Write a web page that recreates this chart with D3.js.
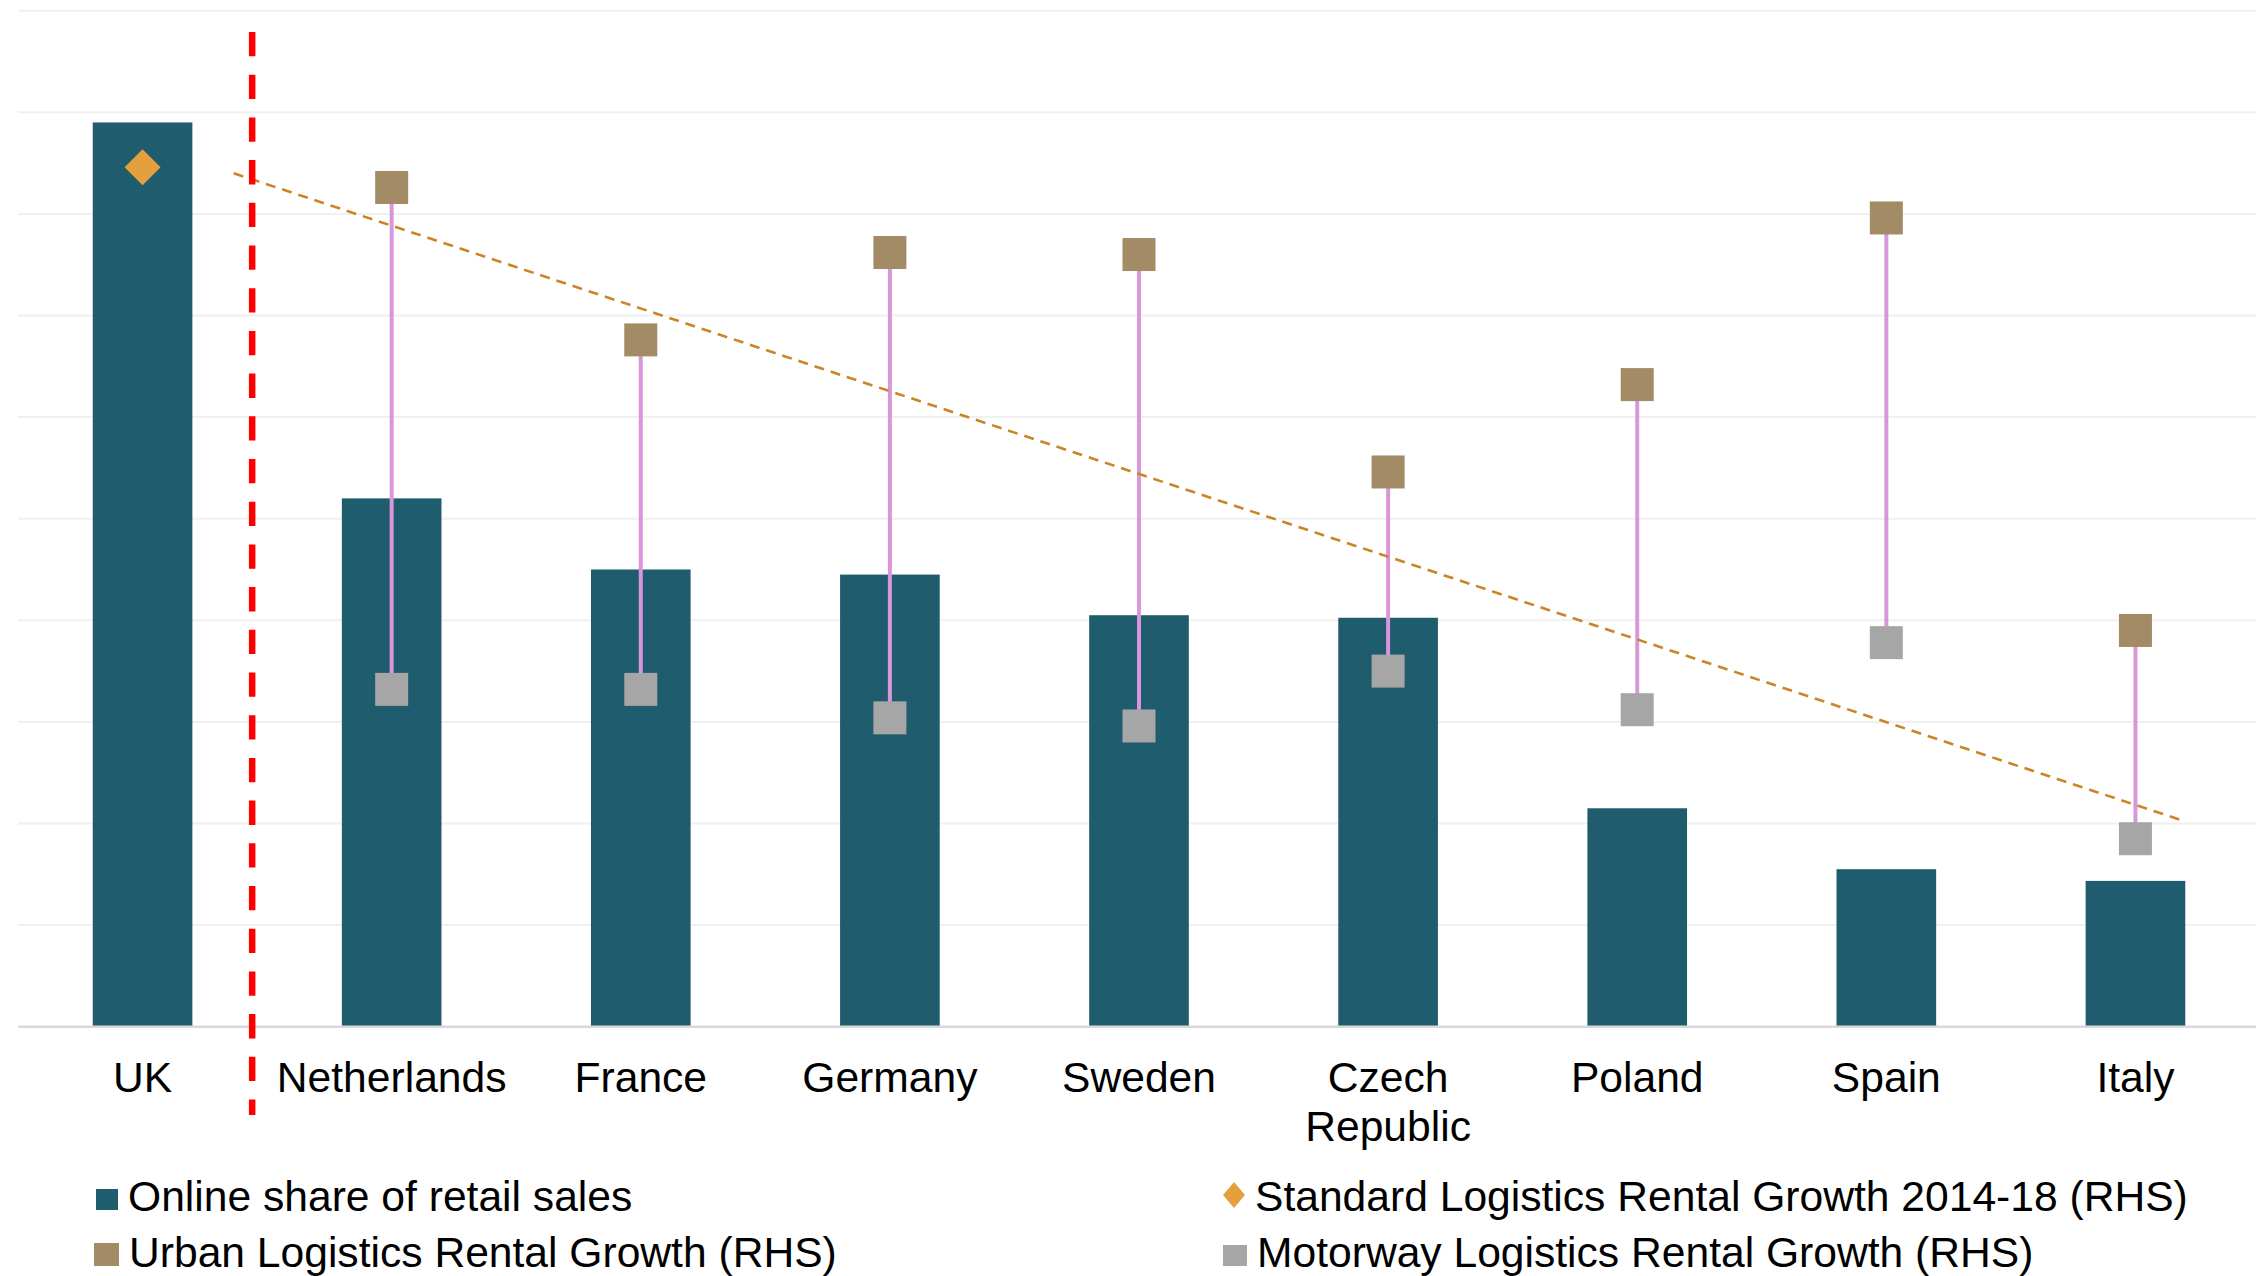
<!DOCTYPE html>
<html>
<head>
<meta charset="utf-8">
<script src="https://cdn.jsdelivr.net/npm/d3@7/dist/d3.min.js"></script>
<style>
  html, body { margin: 0; padding: 0; background: #ffffff; }
  svg { display: block; }
  text { font-family: "Liberation Sans", Arial, sans-serif; fill: #000; }
</style>
</head>
<body>
<svg id="chart" width="2256" height="1276"></svg>
<script>
// Countries along the x axis
const categories = ["UK", "Netherlands", "France", "Germany", "Sweden", "Czech Republic", "Poland", "Spain", "Italy"];
// Online share of retail sales, % (left axis)
const onlineShare = [17.8, 10.4, 9.0, 8.9, 8.1, 8.05, 4.3, 3.1, 2.87];
// Rental growth, % (right axis)
const urbanGrowth    = [null, 41.3, 33.8, 38.1, 38.0, 27.3, 31.6, 39.8, 19.5];
const motorwayGrowth = [null, 16.6, 16.6, 15.2, 14.8, 17.5, 15.6, 18.9, 9.25];
const standardGrowth = [42.3, null, null, null, null, null, null, null, null];
// Linear trend across the continental markets: [category offset from UK, value]
const trendPos   = [0.366, 8.2];
const trendValue = [42.0, 10.1];
// Gridline ticks for each axis (labels hidden)
const leftTicks  = [0, 2, 4, 6, 8, 10, 12, 14, 16, 18, 20];
const rightTicks = [0, 5, 10, 15, 20, 25, 30, 35, 40, 45, 50];
// Legend entries
const legendLabels = [
  "Online share of retail sales",
  "Urban Logistics Rental Growth (RHS)",
  "Standard Logistics Rental Growth 2014-18 (RHS)",
  "Motorway Logistics Rental Growth (RHS)"
];

const colors = {
  bar: "#1F5C6D",
  urban: "#A38B66",
  motorway: "#A6A6A6",
  standard: "#E5A03E",
  connector: "#DA96DA",
  trend: "#CC8424",
  separator: "#FF0000",
  grid: "#F0F0F0",
  axis: "#D9D9D9"
};
const fontSize = "42.6px";

const svg = d3.select("#chart");
const plot = { left: 18, right: 2260, top: 10.7, bottom: 1026.7 };

const x = d3.scaleBand()
  .domain(categories)
  .range([plot.left, plot.right])
  .paddingInner(0.6)
  .paddingOuter(0.3);
const yLeft = d3.scaleLinear().domain([0, 20]).range([plot.bottom, plot.top]);
const yRight = d3.scaleLinear().domain([0, 50]).range([plot.bottom, plot.top]);
const cx = c => x(c) + x.bandwidth() / 2;
const posX = p => cx(categories[0]) + p * x.step();

// Horizontal gridlines
svg.append("g")
  .selectAll("line")
  .data(leftTicks.slice(1))
  .join("line")
  .attr("x1", plot.left).attr("x2", 2256)
  .attr("y1", d => yLeft(d)).attr("y2", d => yLeft(d))
  .attr("stroke", colors.grid)
  .attr("stroke-width", 2);

// Online share bars
svg.append("g")
  .selectAll("rect")
  .data(categories.map((c, i) => ({ c, v: onlineShare[i] })))
  .join("rect")
  .attr("x", d => x(d.c))
  .attr("width", x.bandwidth())
  .attr("y", d => yLeft(d.v))
  .attr("height", d => yLeft(0) - yLeft(d.v))
  .attr("fill", colors.bar);

// Category axis: baseline and labels
const xAxis = svg.append("g")
  .attr("transform", `translate(0,${plot.bottom})`)
  .call(d3.axisBottom(x).tickSize(0).tickPadding(0).tickFormat(""));
xAxis.select(".domain")
  .attr("d", `M${plot.left},0H2256`)
  .attr("stroke", colors.axis)
  .attr("stroke-width", 2.5);

const labels = svg.append("g").selectAll("text")
  .data(categories)
  .join("text")
  .attr("x", d => cx(d))
  .attr("y", 1092)
  .attr("text-anchor", "middle")
  .style("font-size", fontSize);
labels.each(function (d) {
  const lines = d === "Czech Republic" ? ["Czech", "Republic"] : [d];
  d3.select(this).selectAll("tspan")
    .data(lines)
    .join("tspan")
    .attr("x", cx(d))
    .attr("dy", (l, i) => i === 0 ? 0 : 49)
    .text(l => l);
});

// Urban-to-motorway range connectors
const rangeData = categories
  .map((c, i) => ({ c, hi: urbanGrowth[i], lo: motorwayGrowth[i] }))
  .filter(d => d.hi != null && d.lo != null);
svg.append("g")
  .selectAll("line")
  .data(rangeData)
  .join("line")
  .attr("x1", d => cx(d.c)).attr("x2", d => cx(d.c))
  .attr("y1", d => yRight(d.hi)).attr("y2", d => yRight(d.lo))
  .attr("stroke", colors.connector)
  .attr("stroke-width", 4);

// Trend line
svg.append("path")
  .datum(trendPos.map((p, i) => [p, trendValue[i]]))
  .attr("d", d3.line().x(d => posX(d[0])).y(d => yRight(d[1])))
  .attr("fill", "none")
  .attr("stroke", colors.trend)
  .attr("stroke-width", 2.6)
  .attr("stroke-dasharray", "10,7");

// Square markers
const sq = 33;
function squares(values, fill) {
  svg.append("g")
    .selectAll("rect")
    .data(categories.map((c, i) => ({ c, v: values[i] })).filter(d => d.v != null))
    .join("rect")
    .attr("x", d => cx(d.c) - sq / 2)
    .attr("y", d => yRight(d.v) - sq / 2)
    .attr("width", sq).attr("height", sq)
    .attr("fill", fill);
}
squares(urbanGrowth, colors.urban);
squares(motorwayGrowth, colors.motorway);

// Diamond marker for standard logistics growth
svg.append("g")
  .selectAll("path")
  .data(categories.map((c, i) => ({ c, v: standardGrowth[i] })).filter(d => d.v != null))
  .join("path")
  .attr("transform", d => `translate(${cx(d.c)},${yRight(d.v)})`)
  .attr("d", "M0,-18L18,0L0,18L-18,0Z")
  .attr("fill", colors.standard);

// Separator between UK and the continental markets
const sepX = posX(0.44);
svg.append("line")
  .attr("x1", sepX).attr("x2", sepX)
  .attr("y1", 32).attr("y2", 1115)
  .attr("stroke", colors.separator)
  .attr("stroke-width", 6.5)
  .attr("stroke-dasharray", "24.3,18.4");

// Legend
const legend = svg.append("g").style("font-size", fontSize);
const legendItems = [
  { label: legendLabels[0], x: 96,   y: 1211, shape: "rect", w: 22, h: 21, fill: colors.bar },
  { label: legendLabels[1], x: 94,   y: 1267, shape: "rect", w: 25, h: 23, fill: colors.urban },
  { label: legendLabels[2], x: 1223, y: 1211, shape: "diamond", w: 22, h: 26, fill: colors.standard },
  { label: legendLabels[3], x: 1223, y: 1267, shape: "rect", w: 24, h: 21, fill: colors.motorway }
];
legendItems.forEach(item => {
  const g = legend.append("g");
  if (item.shape === "rect") {
    g.append("rect")
      .attr("x", item.x).attr("y", item.y - item.h - 1)
      .attr("width", item.w).attr("height", item.h)
      .attr("fill", item.fill);
  } else {
    const mx = item.x + item.w / 2, my = item.y - 16;
    g.append("path")
      .attr("d", `M${mx},${my - item.h / 2}L${mx + item.w / 2},${my}L${mx},${my + item.h / 2}L${mx - item.w / 2},${my}Z`)
      .attr("fill", item.fill);
  }
  g.append("text")
    .attr("x", item.x + item.w + 10)
    .attr("y", item.y)
    .text(item.label);
});
</script>
</body>
</html>
